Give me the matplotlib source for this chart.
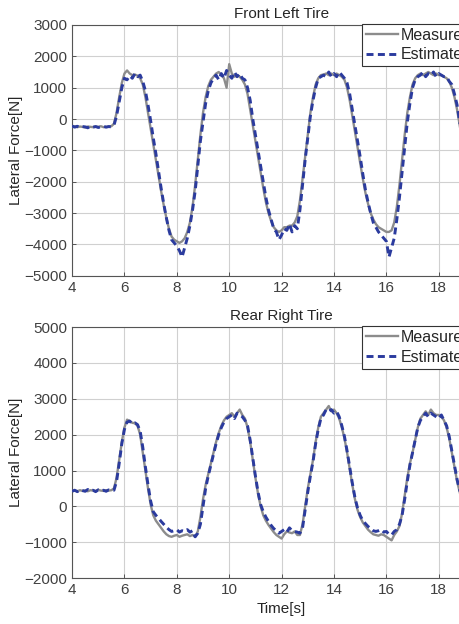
import numpy as np
import matplotlib
matplotlib.use("Agg")
import matplotlib.pyplot as plt

plt.rcParams['font.family'] = ['Liberation Sans', 'DejaVu Sans']

# time base (s), 0.1 s sampling
time = np.round(np.arange(4.0, 19.05, 0.1), 1)

fl_measured = [
    -250, -230, -260, -240, -250, -270, -240, -250, -260, -240, -250, -230, -260, -250, -240, -230,
    -150, 200, 700, 1150, 1450, 1550, 1450, 1400, 1420, 1380, 1300, 1100, 700, 200,
    -300, -800, -1300, -1800, -2300, -2750, -3150, -3500, -3750, -3850,
    -3900, -3950, -3900, -3800, -3600, -3300, -2800, -2100, -1300, -500,
    200, 700, 1050, 1250, 1350, 1450, 1500, 1400, 1300, 1000,
    1750, 1450, 1350, 1400, 1350, 1250, 1100, 800, 300, -200,
    -700, -1200, -1700, -2200, -2650, -3000, -3250, -3450, -3550, -3600,
    -3550, -3450, -3450, -3400, -3400, -3300, -3100, -2600, -1900, -1200,
    -500, 200, 700, 1100, 1300, 1400, 1420, 1450, 1400, 1450,
    1400, 1450, 1400, 1350, 1250, 1000, 600, 100, -400, -900,
    -1400, -1900, -2350, -2700, -3000, -3200, -3350, -3450, -3500, -3550,
    -3600, -3600, -3550, -3300, -2800, -2100, -1300, -500, 200, 700,
    1100, 1300, 1400, 1450, 1400, 1450, 1500, 1450, 1400, 1450,
    1400, 1400, 1350, 1300, 1200, 1000, 700, 300, -200, -700,
    -1200,
]

fl_estimated = [
    -220, -260, -230, -270, -240, -250, -280, -230, -260, -240, -270, -250, -230, -260, -240, -250,
    -200, 100, 550, 1000, 1300, 1250, 1380, 1300, 1450, 1350, 1400, 1200, 900, 450,
    -50, -600, -1100, -1650, -2200, -2700, -3150, -3550, -3850, -3950,
    -4050, -4200, -4400, -4100, -3800, -3400, -2900, -2300, -1500, -700,
    -100, 500, 900, 1150, 1300, 1400, 1250, 1450, 1300, 1550,
    1400, 1300, 1500, 1350, 1450, 1300, 1250, 1000, 600, 0,
    -500, -1000, -1500, -2000, -2500, -2900, -3200, -3500, -3600, -3850,
    -3700, -3500, -3550, -3350, -3600, -3400, -3500, -2900, -2100, -1300,
    -600, 100, 600, 1000, 1300, 1350, 1400, 1350, 1500, 1350,
    1450, 1350, 1500, 1400, 1300, 1150, 800, 300, -200, -700,
    -1200, -1750, -2250, -2650, -3000, -3300, -3450, -3600, -3700, -3800,
    -3900, -4400, -4100, -3800, -3200, -2500, -1700, -900, -100, 500,
    1000, 1250, 1350, 1400, 1500, 1350, 1450, 1400, 1500, 1350,
    1450, 1400, 1350, 1350, 1200, 1100, 800, 450, -100, -600,
    -1100,
]

rr_measured = [
    430, 440, 420, 450, 430, 440, 420, 450, 440, 430, 460, 440, 430, 450, 440, 450,
    500, 800, 1300, 1800, 2200, 2420, 2380, 2330, 2320, 2250, 2000, 1500, 1000, 500,
    50, -250, -400, -500, -600, -700, -780, -830, -850, -820,
    -800, -850, -820, -800, -780, -830, -800, -850, -700, -300,
    200, 600, 900, 1200, 1500, 1800, 2050, 2250, 2400, 2500,
    2550, 2600, 2500, 2600, 2700, 2550, 2450, 2200, 1800, 1300,
    800, 350, 0, -250, -400, -520, -620, -720, -800, -850,
    -900, -780, -700, -730, -750, -700, -800, -800, -500, 0,
    500, 900, 1300, 1800, 2200, 2500, 2600, 2700, 2800, 2650,
    2700, 2600, 2450, 2200, 1900, 1500, 1050, 600, 200, -100,
    -300, -450, -550, -650, -720, -780, -800, -820, -780, -800,
    -850, -900, -950, -800, -700, -550, -200, 300, 800, 1200,
    1500, 1850, 2200, 2450, 2550, 2650, 2550, 2700, 2600, 2550,
    2550, 2500, 2400, 2200, 1900, 1500, 1100, 700, 400, 100,
    -200,
]

rr_estimated = [
    420, 450, 410, 460, 440, 420, 470, 430, 450, 410, 460, 430, 450, 420, 460, 440,
    450, 700, 1200, 1750, 2150, 2350, 2380, 2300, 2330, 2280, 2100, 1650, 1100, 600,
    150, -150, -250, -330, -420, -500, -580, -650, -700, -680,
    -650, -720, -680, -700, -650, -720, -680, -850, -750, -500,
    0, 500, 850, 1150, 1450, 1750, 2000, 2200, 2350, 2450,
    2500, 2550, 2450, 2600, 2550, 2500, 2400, 2250, 1850, 1350,
    850, 400, 50, -150, -300, -420, -530, -620, -680, -750,
    -700, -650, -720, -600, -680, -700, -720, -750, -600, -100,
    400, 850, 1250, 1750, 2150, 2450, 2550, 2700, 2650, 2700,
    2600, 2650, 2500, 2250, 1950, 1550, 1100, 650, 250, -50,
    -250, -400, -480, -560, -620, -680, -700, -680, -650, -720,
    -700, -780, -800, -700, -650, -500, -250, 200, 700, 1150,
    1500, 1850, 2200, 2400, 2500, 2600, 2500, 2600, 2550, 2500,
    2450, 2550, 2400, 2250, 1950, 1550, 1150, 750, 450, 150,
    -150,
]

titles = ["Front Left Tire", "Rear Right Tire"]
series_labels = ["Measured", "Estimated"]
ylims = [(-5000, 3000), (-2000, 5000)]
x_ticks = [4, 6, 8, 10, 12, 14, 16, 18]

gray = "#8c8c8c"
blue = "#2b3b9e"
txt = "#262626"
tick_col = "#404040"

fig = plt.figure(figsize=(4.59, 6.24), dpi=100)
ax1 = fig.add_axes([0.157, 0.558, 0.913, 0.402])
ax2 = fig.add_axes([0.157, 0.0737, 0.913, 0.402])

for ax, meas, est, title, ylim in [
    (ax1, fl_measured, fl_estimated, titles[0], ylims[0]),
    (ax2, rr_measured, rr_estimated, titles[1], ylims[1]),
]:
    ax.plot(time, meas, color=gray, lw=1.7, label=series_labels[0], zorder=3)
    ax.plot(time, est, color=blue, lw=2.1, ls=(0, (2.4, 1.5)), label=series_labels[1], zorder=4)
    ax.set_xlim(4, 20)
    ax.set_ylim(*ylim)
    ax.set_xticks(x_ticks)
    ax.set_yticks(np.arange(ylim[0], ylim[1] + 1, 1000))
    ax.grid(True, color="#d0d0d0", lw=0.8)
    ax.set_axisbelow(True)
    ax.tick_params(direction="in", length=3, labelsize=11, colors=tick_col, width=0.6)
    for s in ax.spines.values():
        s.set_color("#555555")
        s.set_linewidth(0.8)
    ax.set_title(title, fontsize=11, color=txt, pad=5)
    ax.set_ylabel("Lateral Force[N]", fontsize=11, color=txt, labelpad=1)
    leg = ax.legend(loc="upper left", bbox_to_anchor=(0.692, 1.005), borderaxespad=0,
                    fontsize=11.5, handlelength=2.0, handletextpad=0.2, labelspacing=0.3,
                    borderpad=0.25, fancybox=False, framealpha=1, edgecolor="#333333")
    leg.get_frame().set_linewidth(0.8)
    for t in leg.get_texts():
        t.set_color(txt)

ax2.set_xlabel("Time[s]", fontsize=11, color=txt, labelpad=4)

fig.savefig("out.png", dpi=100)
